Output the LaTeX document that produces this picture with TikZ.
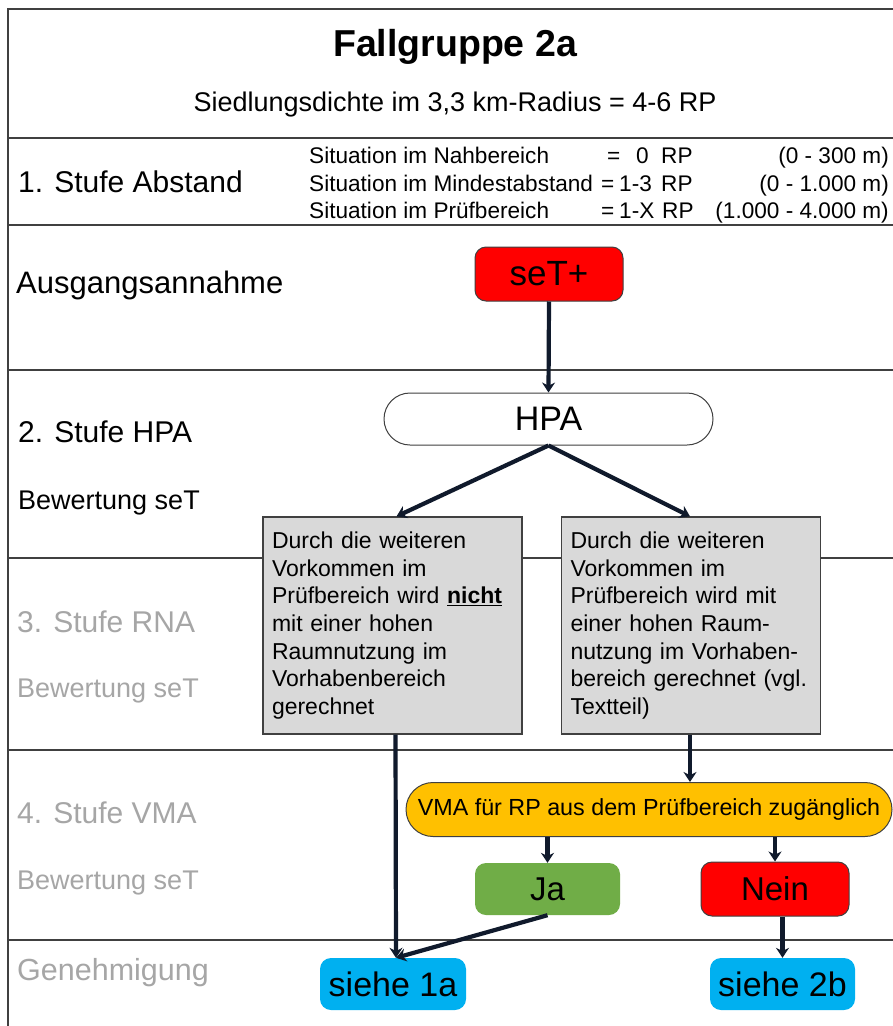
\documentclass[tikz,border=0pt]{standalone}
\usepackage{fontspec}
\setmainfont{Liberation Sans}
\usetikzlibrary{arrows.meta}
\definecolor{arrowc}{HTML}{101A2C}
\definecolor{rulec}{HTML}{404040}
\definecolor{labgray}{HTML}{A6A6A6}
\definecolor{boxgray}{HTML}{D9D9D9}
\definecolor{cred}{HTML}{FF0000}
\definecolor{cgreen}{HTML}{70AD47}
\definecolor{corange}{HTML}{FFC000}
\definecolor{ccyan}{HTML}{00B0F0}
\tikzset{
  rowline/.style={draw=rulec, line width=1.3pt},
  lab/.style={anchor=base west, inner sep=0pt, font=\fontsize{30}{36}\selectfont},
  labs/.style={anchor=base west, inner sep=0pt, font=\fontsize{27}{32}\selectfont},
  sit/.style={anchor=base west, inner sep=0pt, font=\fontsize{22.6}{27}\selectfont},
  sitr/.style={anchor=base east, inner sep=0pt, font=\fontsize{22.6}{27}\selectfont},
  pill/.style={rounded corners=11pt, inner sep=0pt, font=\fontsize{33}{40}\selectfont},
  txtbox/.style={draw=rulec, line width=1.2pt, fill=boxgray, inner xsep=9pt, inner ysep=0pt,
     text width=241pt, minimum height=217pt, align=left, font=\fontsize{23}{27.7}\selectfont},
  arr/.style={draw=arrowc, line width=4.2pt, -{Stealth[length=10pt,width=13pt]}}
}
\begin{document}
\begin{tikzpicture}[x=1pt,y=-1pt]
\useasboundingbox (0,0) rectangle (893,1026);
\fill[white] (0,0) rectangle (893,1026);
% frame and row lines
\draw[rowline] (8,1030) -- (8,9) -- (895,9);
\foreach \yy in {138,225,370,558,750,940} \draw[rowline] (8,\yy) -- (895,\yy);
% header
\node[anchor=base, inner sep=0pt, font=\bfseries\fontsize{37.5}{44}\selectfont] (title) at (455,56) {Fallgruppe 2a};
\node[anchor=base, inner sep=0pt, font=\fontsize{27}{32}\selectfont] (subt) at (455,111) {Siedlungsdichte im 3,3 km-Radius = 4-6 RP};
% row labels
\node[lab] (l1) at (18,192) {1. Stufe Abstand};
\node[lab, font=\fontsize{31}{36}\selectfont] (l2) at (16,293) {Ausgangsannahme};
\node[lab] (l3) at (18,442) {2. Stufe HPA};
\node[labs] (l3b) at (18,509) {Bewertung seT};
\node[lab, text=labgray] (l4) at (17,632) {3. Stufe RNA};
\node[labs, text=labgray] (l4b) at (17,697) {Bewertung seT};
\node[lab, text=labgray] (l5) at (17,823) {4. Stufe VMA};
\node[labs, text=labgray] (l5b) at (17,889) {Bewertung seT};
\node[lab, text=labgray, font=\fontsize{30.5}{36}\selectfont] (l6) at (17,980) {Genehmigung};
% situation lines
\node[sit] (s1) at (309,163) {Situation im Nahbereich};
\node[sit] (s1e) at (607,163) {=};
\node[sit] (s1v) at (636,163) {0};
\node[sit] (s1r) at (661,163) {RP};
\node[sitr] (s1m) at (889,163) {(0 - 300 m)};
\node[sit] (s2) at (309,191) {Situation im Mindestabstand};
\node[sit] (s2e) at (601,191) {=};
\node[sit] (s2v) at (619,191) {1-3};
\node[sit] (s2r) at (661,191) {RP};
\node[sitr] (s2m) at (889,191) {(0 - 1.000 m)};
\node[sit] (s3) at (309,218) {Situation im Prüfbereich};
\node[sit] (s3e) at (601,218) {=};
\node[sit] (s3v) at (619,218) {1-X};
\node[sit] (s3r) at (662,218) {RP};
\node[sitr] (s3m) at (889,218) {(1.000 - 4.000 m)};
% flow nodes
\node[pill, draw=rulec, line width=1pt, fill=cred, minimum width=148pt, minimum height=54pt, font=\fontsize{35}{40}\selectfont] (set) at (549,274) {seT+};
\node[pill, rounded corners=26pt, draw=rulec, line width=1pt, fill=white, minimum width=329pt, minimum height=52pt, font=\fontsize{34}{40}\selectfont] (hpa) at (548.5,419) {HPA};
\node[txtbox] (lb) at (392.5,625.5) {Durch die weiteren\\Vorkommen im\\Prüfbereich wird \underline{\textbf{nicht}}\\mit einer hohen\\Raumnutzung im\\Vorhabenbereich\\gerechnet};
\node[txtbox] (rb) at (691,625.5) {Durch die weiteren\\Vorkommen im\\Prüfbereich wird mit\\einer hohen Raum-\\nutzung im Vorhaben-\\bereich gerechnet (vgl.\\Textteil)};
\node[pill, rounded corners=27pt, draw=rulec, line width=1pt, fill=corange, minimum width=486pt, minimum height=54pt, font=\fontsize{23.3}{28}\selectfont] (vma) at (649,809.5) {VMA für RP aus dem Prüfbereich zugänglich};
\node[pill, fill=cgreen, minimum width=145pt, minimum height=52pt] (ja) at (547.5,889) {Ja};
\node[pill, draw=rulec, line width=1pt, fill=cred, minimum width=148pt, minimum height=54pt] (nein) at (775,889) {Nein};
\node[pill, fill=ccyan, minimum width=146pt, minimum height=52pt, font=\fontsize{34}{40}\selectfont] (s1a) at (393,984) {siehe 1a};
\node[pill, fill=ccyan, minimum width=145pt, minimum height=52pt, font=\fontsize{34}{40}\selectfont] (s2b) at (782.5,984) {siehe 2b};
% connectors
\draw[arr] (set.south) -- (hpa.north);
\draw[arr] (hpa.south) -- ([xshift=4pt]lb.north);
\draw[arr] (hpa.south) -- ([xshift=-1pt]rb.north);
\draw[arr] ([xshift=3pt]lb.south) -- ([xshift=3pt]s1a.north);
\draw[arr] ([xshift=-1pt]rb.south) -- ([xshift=-1pt]rb.south |- vma.north);
\draw[arr] (ja.north |- vma.south) -- (ja.north);
\draw[arr] (nein.north |- vma.south) -- (nein.north);
\draw[arr] (ja.south) -- ([xshift=3pt]s1a.north);
\draw[arr] (s2b.north |- nein.south) -- (s2b.north);
\end{tikzpicture}
\end{document}
